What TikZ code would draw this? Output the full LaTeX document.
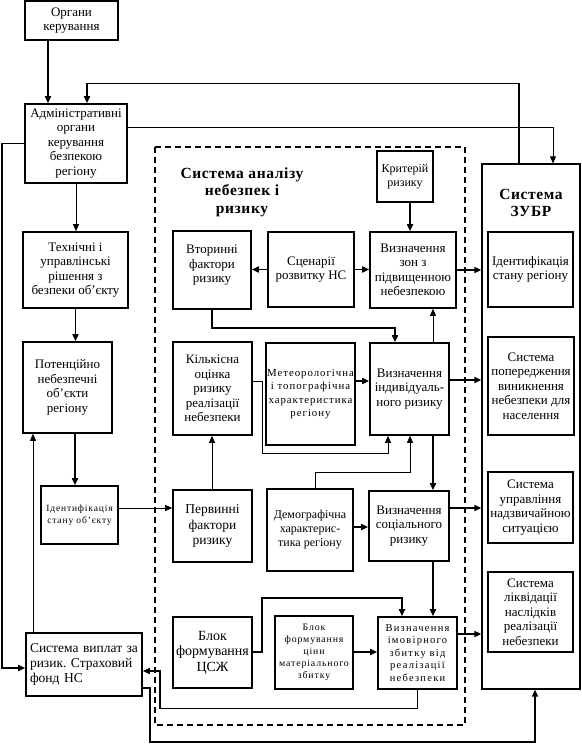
\documentclass[tikz,border=0pt]{standalone}
\usepackage{fontspec}
\setmainfont{Liberation Serif}
\newfontfamily\spfont[LetterSpace=9]{Liberation Serif}
\newfontfamily\spwide[LetterSpace=12]{Liberation Serif}
\newfontfamily\ttlfont[LetterSpace=4]{Liberation Serif}
\usetikzlibrary{arrows.meta}
\newcommand\fsz[2]{\fontsize{#1}{#2}\selectfont}
\frenchspacing
\begin{document}
\begin{tikzpicture}[x=1pt,y=-1pt,
  box/.style={draw, line width=1.6pt, align=center, inner sep=1pt, font=\fsz{13}{14.5}},
  mbox/.style={box, line width=1.2pt},
  sz/.style 2 args={minimum width=#1pt, minimum height=#2pt},
  thk/.style={line width=1.6pt},
  thn/.style={line width=0.8pt},
  med/.style={line width=1.2pt},
  arr/.style={-{Triangle[length=7pt,width=6pt]}},
  ttl/.style={font=\ttlfont\bfseries\fsz{15.5}{17.5}, align=center}]
\useasboundingbox (0,0) rectangle (581,744);
\fill[white] (0,0) rectangle (581,744);

% left column
\node[box, sz={93}{39}] (org) at (71.5,20.5) {Органи\\керування};
\node[box, sz={102}{79}] (adm) at (76,143.5) {Адміністративні\\органи\\керування\\безпекою\\регіону};
\node[box, sz={105}{76}] (tech) at (75.5,270) {Технічні і\\управлінські\\рішення з\\безпеки об’єкту};
\node[box, sz={89}{91}] (pot) at (67.5,387.5) {Потенційно\\небезпечні\\об’єкти\\регіону};
\node[box, sz={77}{58}, font=\spfont\fsz{9.5}{11.5}] (idobj) at (79.5,515) {Ідентифікація\\стану об’єкту};
\node[box, sz={116}{63}, align=left, text width=108pt, font=\fsz{13.5}{15}] (pay) at (84,664.5) {Система виплат за\\ризик. Страховий\\фонд НС};

% analysis system
\draw[thk, dash pattern=on 6pt off 4pt] (155,147) rectangle (465,725);
\node[ttl] (systitle) at (242,192) {Система аналізу\\небезпек і\\ризику};
\node[mbox, sz={56}{51}, font=\fsz{12}{14}] (krit) at (405,176.5) {Критерій\\ризику};
\node[box, sz={86}{76}] (zones) at (413,270) {Визначення\\зон з\\підвищенною\\небезпекою};
\node[mbox, sz={86}{75}] (scen) at (311,269.5) {Сценарії\\розвитку НС};
\node[box, sz={78}{78}] (vtor) at (212,270) {Вторинні\\фактори\\ризику\\[-2.5pt]\mbox{}};
\node[box, sz={79}{92}] (indiv) at (409.5,389) {Визначення\\індивідуаль-\\ного ризику};
\node[box, sz={79}{93}] (kilk) at (212.5,388.5) {Кількісна\\оцінка\\ризику\\реалізації\\небезпеки};
\node[box, sz={87}{102}, font=\spfont\fsz{10.8}{13.5}] (meteo) at (310.5,394) {Метеорологічна\\і топографічна\\характеристика\\регіону};
\node[box, sz={79}{72}, font=\fsz{13.5}{15.5}] (perv) at (212.5,526) {Первинні\\фактори\\ризику};
\node[box, sz={86}{82}, font=\fsz{12}{14}] (demo) at (310,530) {Демографічна\\характерис-\\тика регіону};
\node[box, sz={80}{70}] (soc) at (409,526) {Визначення\\соціального\\ризику};
\node[box, sz={79}{71}, font=\fsz{14}{15.5}] (csj) at (212.5,652.5) {Блок\\формування\\ЦСЖ};
\node[box, sz={78}{73}, font=\spfont\fsz{9.8}{12}] (cina) at (314,652.5) {Блок\\формування\\ціни\\матеріального\\збитку};
\node[box, sz={79}{72}, font=\spwide\fsz{10.5}{12.5}] (imov) at (417.5,653) {Визначення\\імовірного\\збитку від\\реалізації\\небезпеки};

% ZUBR
\node[mbox, sz={98}{525}] (zubr) at (531,426.5) {};
\node[ttl] (zubrt) at (531,203) {Система\\ЗУБР};
\node[mbox, sz={85}{75}] (zid) at (530.5,269.5) {Ідентифікація\\стану регіону};
\node[mbox, sz={86}{98}] (zpop) at (531,386) {Система\\попередження\\виникнення\\небезпеки для\\населення};
\node[mbox, sz={85}{71}] (zupr) at (530.5,507.5) {Система\\управління\\надзвичайною\\ситуацією};
\node[mbox, sz={85}{80}] (zlikv) at (530.5,612) {Система\\ліквідації\\наслідків\\реалізації\\небезпеки};

% connectors
\draw[thk,arr] (org.south -| 48,0) -- (48,0 |- adm.north);
\draw[thk,arr] ([xshift=-12pt]zubr.north) -- ++(0,-80) -| (87,0 |- adm.north);
\draw[thn,arr] (adm.east |- 0,127) -| (553,0 |- zubr.north);
\draw[thk,arr] (adm.west) -- ++(-22,0) |- (pay.west |- 0,668);
\draw[thn,arr] (adm.south) -- (adm.south |- tech.north);
\draw[thk,arr] (tech.south) -- (tech.south |- pot.north);
\draw[thk,arr] (75,0 |- pot.south) -- (75,0 |- idobj.north);
\draw[thn,arr] (idobj.east |- 0,508) -- (perv.west |- 0,508);
\draw[thn,arr] (33,0 |- pay.north) -- (33,0 |- pot.south);
\draw[med,arr] (imov.south) -- ++(0,19) -| (160,671) -- (pay.east |- 0,671);
\draw[thk,arr] (pay.east |- 0,688) -- (150,688) |- (535,742) -- (535,0 |- zubr.south);

\draw[thk,arr] (410,0 |- krit.south) -- (410,0 |- zones.north);
\draw[thk,arr] (scen.west) -- (vtor.east |- scen.west);
\draw[thk,arr] (scen.east) -- (zones.west |- scen.east);
\draw[thk,arr] (vtor.south) |- (395,328) -- (395,0 |- indiv.north);
\draw[thn,arr] (433,0 |- indiv.north) -- (433,0 |- zones.south);
\draw[thk,arr] (zones.east) -- (zubr.west |- zones.east);
\draw[thk,arr] (indiv.east |- 0,380) -- (zubr.west |- 0,380);
\draw[thn,arr] (kilk.east |- 0,381) -- (262,381) |- (388,453) -- (388,0 |- indiv.south);
\draw[thk,arr] (meteo.east |- 0,381) -- (indiv.west |- 0,381);
\draw[thn,arr] (315,0 |- demo.north) |- (410,472) -- (410,0 |- indiv.south);
\draw[thk,arr] (433,0 |- indiv.south) -- (433,0 |- soc.north);
\draw[thn,arr] (212,0 |- perv.north) -- (212,0 |- kilk.south);
\draw[thk,arr] (demo.east |- 0,527) -- (soc.west |- 0,527);
\draw[thk,arr] (soc.east |- 0,508) -- (zubr.west |- 0,508);
\draw[thk,arr] (433,0 |- soc.south) -- (433,0 |- imov.north);
\draw[thk,arr] (csj.east |- 0,652) -- (262,652) |- (402,598) -- (402,0 |- imov.north);
\draw[thk,arr] (cina.east |- 0,652) -- (imov.west |- 0,652);
\draw[thk,arr] (imov.east |- 0,634) -- (zubr.west |- 0,634);
\end{tikzpicture}
\end{document}
